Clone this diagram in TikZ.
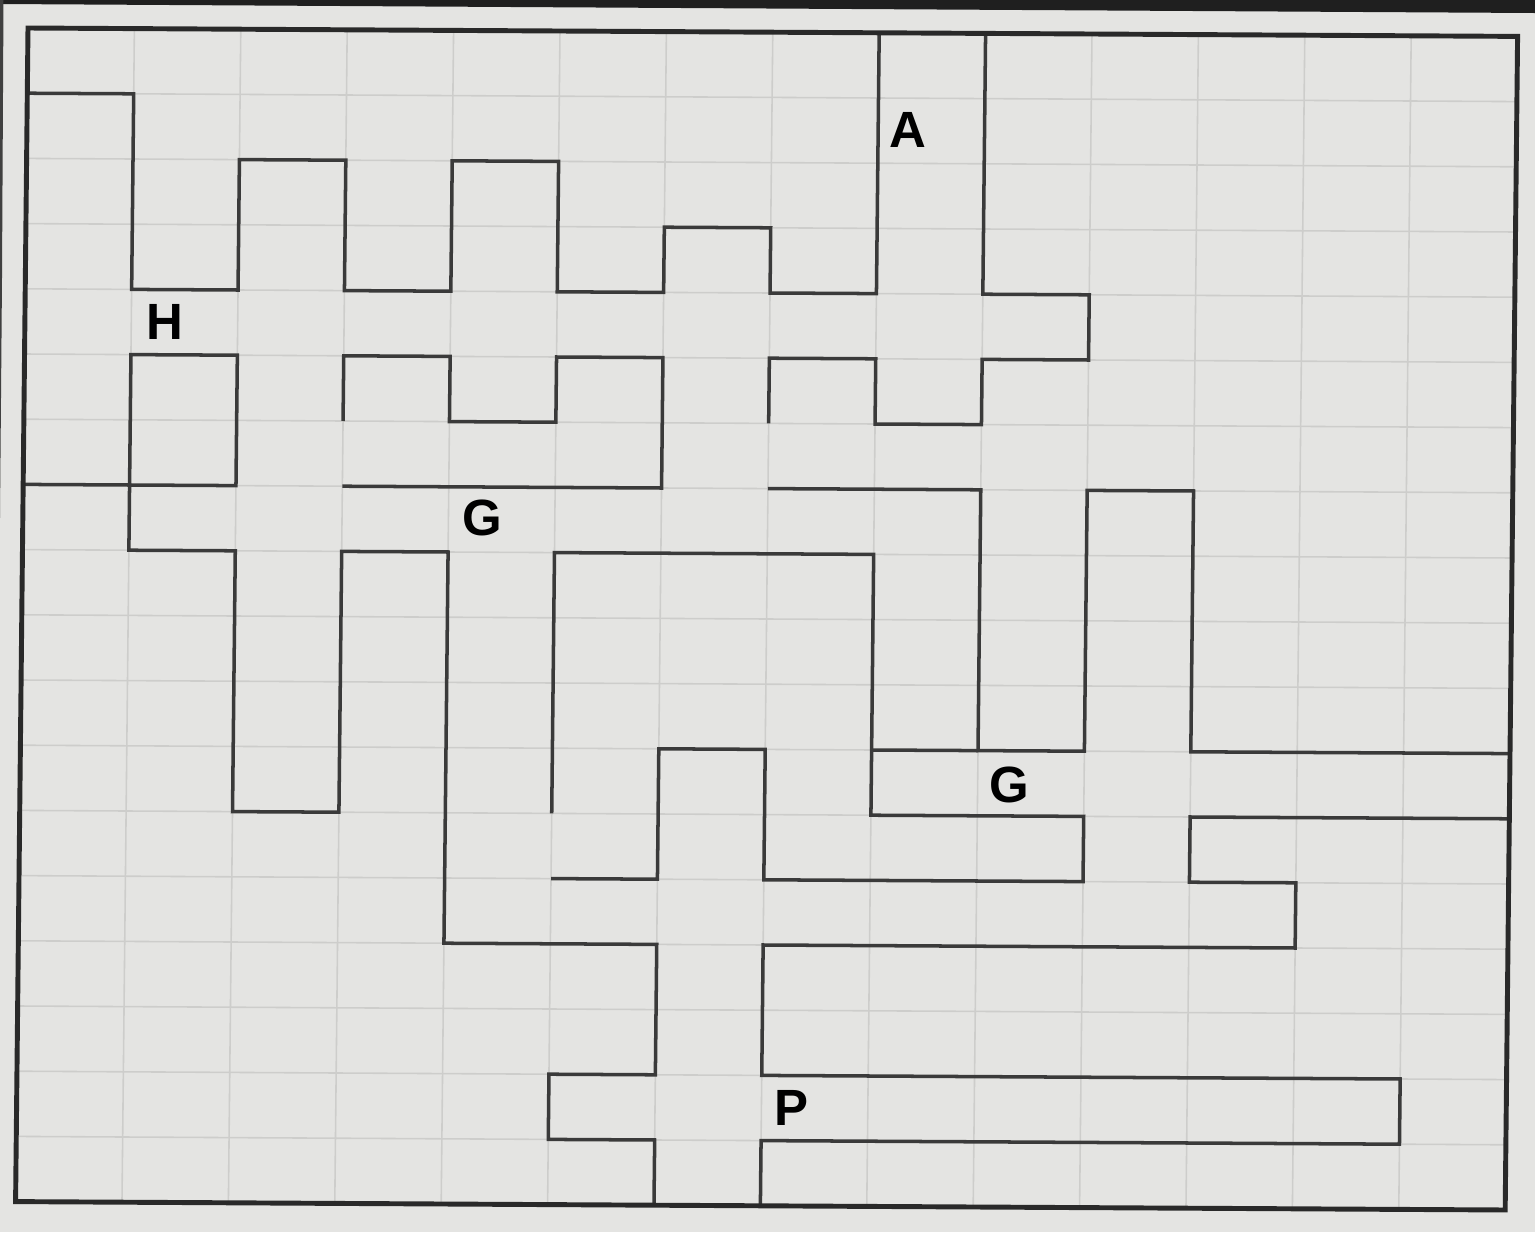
\documentclass[tikz,border=0pt]{standalone}
\usepackage{fontspec}
\setmainfont{Liberation Sans}
\definecolor{paper}{HTML}{E4E4E2}
\definecolor{ink}{HTML}{3A3A3A}
\definecolor{rule}{HTML}{CDCDCB}
\begin{document}
\begin{tikzpicture}[
 x={(1.064cm,-0.006cm)},y={(-0.0069cm,-0.652cm)},
 wall/.style={line width=1pt,draw=ink,line join=miter},
 frame/.style={line width=1.4pt,draw=ink!70!black,line join=miter},
 gridline/.style={line width=.45pt,draw=rule},
 letter/.style={font=\fontsize{14.5}{16}\selectfont\bfseries,inner sep=0pt}]
 % Sheet and the dark edges at the top and left.
 \fill[paper] (-0.28cm,0.28cm) rectangle (15.07cm,-12.04cm);
 \useasboundingbox (-0.28cm,0.28cm) rectangle (15.07cm,-12.04cm);
 \fill[black!88] (-0.28cm,0.28cm)--(15.07cm,0.28cm)--(15.07cm,0.15cm)--(-0.28cm,0.24cm)--cycle;
 \fill[black!75] (-0.28cm,0.28cm)--(-0.245cm,0.28cm)--(-0.26cm,-2.5cm)--(-0.28cm,-4.9cm)--cycle;
 % Squared paper.
 \foreach \c in {1,...,13}{\draw[gridline] (\c,0)--(\c,18);}
 \foreach \r in {1,...,17}{\draw[gridline] (0,\r)--(14,\r);}
 % Walls.
 \draw[wall] (0,1)--(1,1)--(1,4)--(2,4)--(2,2)--(3,2)--(3,4)--(4,4)--(4,2)--(5,2)--(5,4)--(6,4)--(6,3)--(7,3)--(7,4)--(8,4)--(8,0);
 \draw[wall] (9,0)--(9,4)--(10,4)--(10,5)--(9,5)--(9,6)--(8,6)--(8,5)--(7,5)--(7,6);
 \draw[wall] (0,7)--(2,7)--(2,5)--(1,5)--(1,8)--(2,8)--(2,12)--(3,12)--(3,8)--(4,8)--(4,14)--(6,14)--(6,16)--(5,16)--(5,17)--(6,17)--(6,18);
 \draw[wall] (3,6)--(3,5)--(4,5)--(4,6)--(5,6)--(5,5)--(6,5)--(6,7)--(3,7);
 \draw[wall] (7,7)--(9,7)--(9,11)--(10,11)--(10,7)--(11,7)--(11,11)--(14,11);
 \draw[wall] (8,11)--(9,11);
 \draw[wall] (5,12)--(5,8)--(8,8)--(8,12)--(10,12)--(10,13)--(7,13)--(7,11)--(6,11)--(6,13)--(5,13);
 \draw[wall] (14,12)--(11,12)--(11,13)--(12,13)--(12,14)--(7,14)--(7,16)--(13,16)--(13,17)--(7,17)--(7,18);
 % Outer frame.
 \draw[frame] (0,0)--(14,0)--(14,18)--(0,18)--cycle;
 % Letters.
 \node[letter] (a) at (8.28,1.49) {A};
 \node[letter] (h) at (1.32,4.50) {H};
 \node[letter] (g1) at (4.32,7.48) {G};
 \node[letter] (g2) at (9.30,11.52) {G};
 \node[letter] (p) at (7.28,16.50) {P};
\end{tikzpicture}
\end{document}
